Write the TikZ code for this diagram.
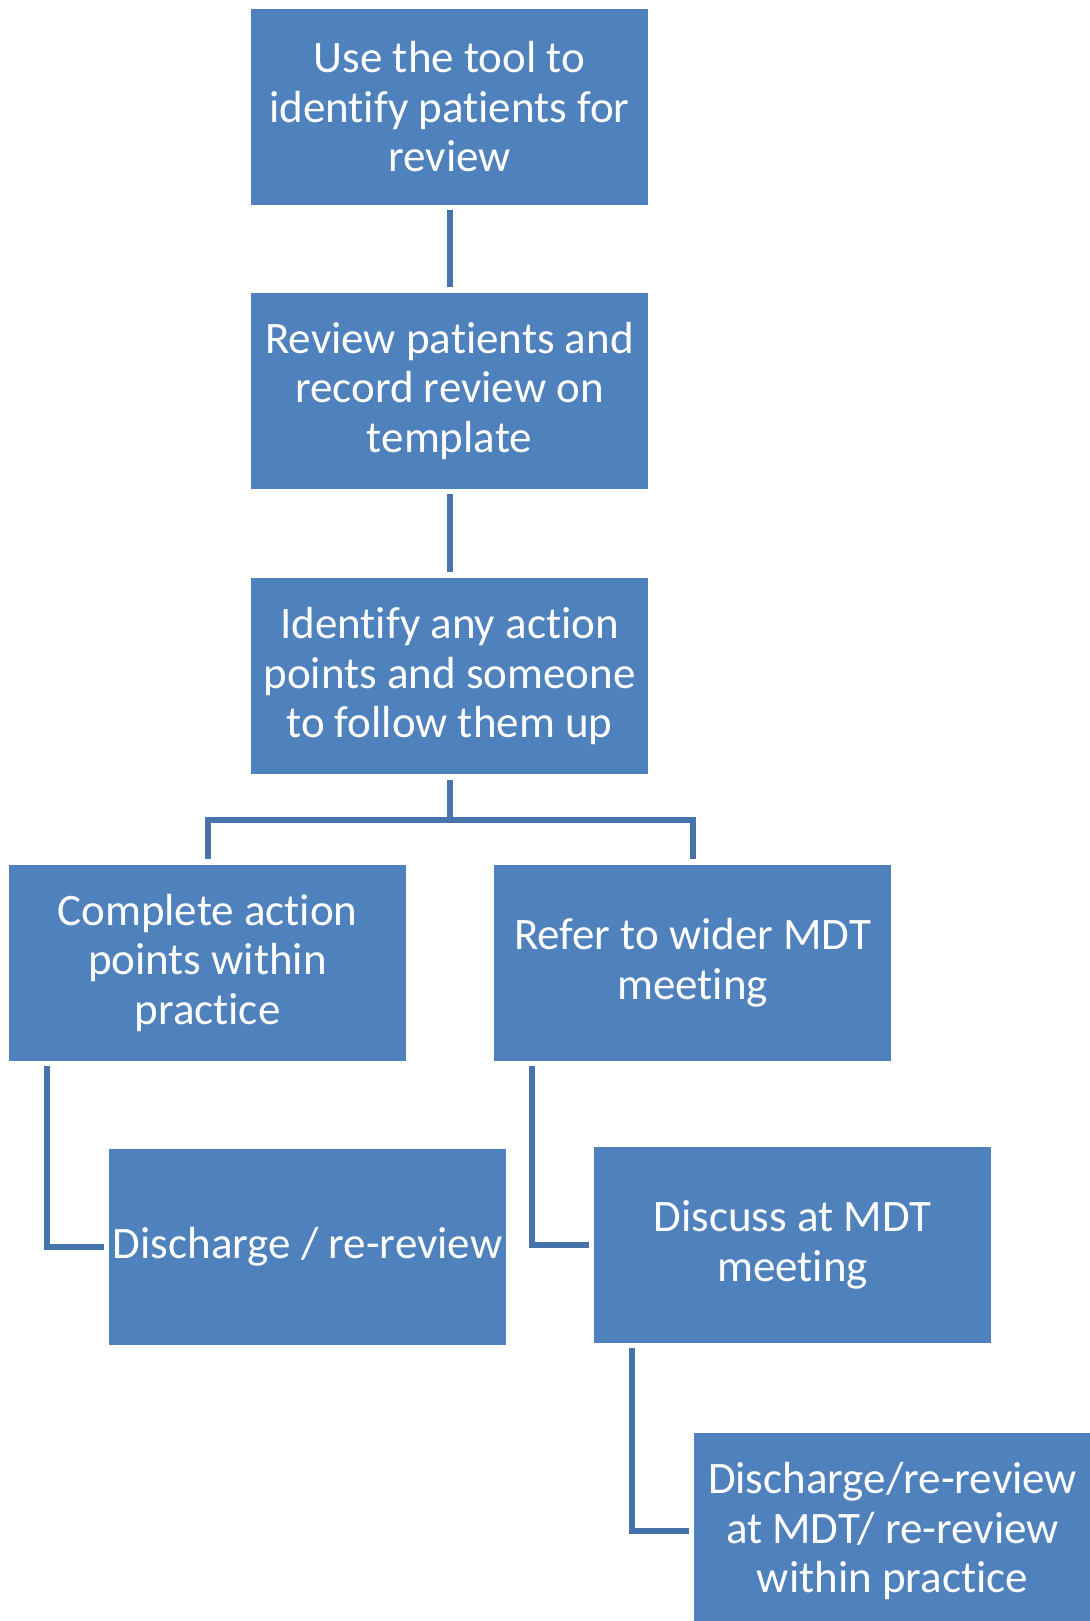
\documentclass[tikz,border=0pt]{standalone}
\usepackage{fontspec}
\setmainfont{Carlito}[RawFeature={-liga}]
\definecolor{boxblue}{HTML}{4F81BD}
\definecolor{linkblue}{HTML}{4674AA}
\begin{document}
\begin{tikzpicture}[x=0.5pt,y=-0.5pt,
  stepbox/.style={rectangle, fill=boxblue, draw=none, inner sep=0pt,
    minimum width=198.5pt, minimum height=98pt, text=white, align=center,
    font=\fontsize{22.5pt}{24.75pt}\selectfont},
  link/.style={draw=linkblue, line width=3pt}]
\useasboundingbox (0,0) rectangle (1090,1621);
\clip (0,0) rectangle (1090,1621);

% process boxes
\node[stepbox] (use)      at (449.5,107)  {Use the tool to\\identify patients for\\review};
\node[stepbox] (record)   at (449.5,391)  {Review patients and\\record review on\\template};
\node[stepbox] (actions)  at (449.5,676)  {Identify any action\\points and someone\\to follow them up};
\node[stepbox] (complete) at (207.5,962.5) {Complete action\\points within\\practice};
\node[stepbox] (refer)    at (692.5,962.5) {Refer to wider MDT\\meeting};
\node[stepbox] (dischA)   at (307.5,1247) {Discharge / re-review};
\node[stepbox] (discuss)  at (792.5,1245) {Discuss at MDT\\meeting};
\node[stepbox] (dischB)   at (892.5,1531) {Discharge/re-review\\at MDT/ re-review\\within practice};

% straight links
\draw[link, shorten <=2.5pt, shorten >=3pt] (use.south) -- (record.north);
\draw[link, shorten <=2.5pt, shorten >=3pt] (record.south) -- (actions.north);

% branching link to the two options
\coordinate (split) at (449.5,820);
\draw[link, shorten <=3pt] (actions.south) -- (split);
\draw[link, shorten >=2.5pt] (split) -| (complete.north);
\draw[link, shorten >=2.5pt] (split) -| (refer.north);

% elbow links from the left side of each parent box
\draw[link, shorten >=2.5pt] ([xshift=19pt,yshift=-2.5pt]complete.south west) |- (dischA.west);
\draw[link, shorten >=2.5pt] ([xshift=19pt,yshift=-2.5pt]refer.south west) |- (discuss.west);
\draw[link, shorten >=2.5pt] ([xshift=19pt,yshift=-2.5pt]discuss.south west) |- (dischB.west);
\end{tikzpicture}
\end{document}
